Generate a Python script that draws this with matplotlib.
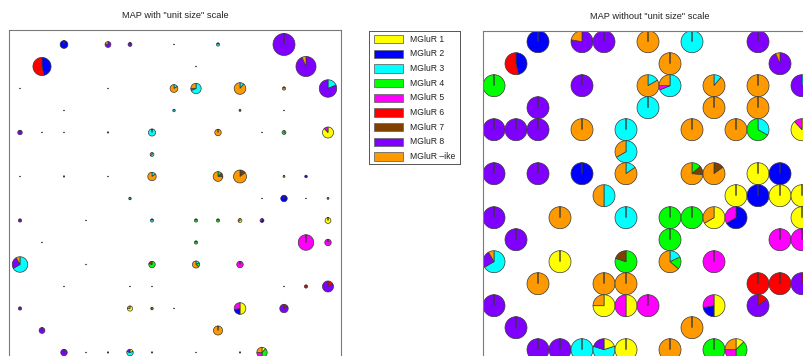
import numpy as np
import matplotlib
matplotlib.use("Agg")
import matplotlib.pyplot as plt
from matplotlib.patches import Polygon, Rectangle

plt.rcParams["font.family"] = ["Liberation Sans", "DejaVu Sans"]

# ---- classes -------------------------------------------------------------
class_names = ["MGluR 1", "MGluR 2", "MGluR 3", "MGluR 4", "MGluR 5",
               "MGluR 6", "MGluR 7", "MGluR 8", "MGluR \u2013ike"]
class_colors = ["#FFFF00", "#0000FF", "#00FFFF", "#00FF00", "#FF00FF",
                "#FF0000", "#804000", "#8000FF", "#FF9900"]

# ---- SOM map units with hits --------------------------------------------
# grid row, grid column, hits per class (same order as class_names)
unit_row = [0, 0, 0, 0, 0, 0,
            1, 1, 1,
            2, 2, 2, 2, 2, 2, 2,
            3, 3, 3, 3,
            4, 4, 4, 4, 4, 4, 4, 4, 4,
            5,
            6, 6, 6, 6, 6, 6, 6, 6,
            7, 7, 7, 7, 7,
            8, 8, 8, 8, 8, 8, 8, 8,
            9, 9, 9, 9,
            10, 10, 10, 10, 10,
            11, 11, 11, 11, 11, 11,
            12, 12, 12, 12, 12, 12,
            13, 13,
            14, 14, 14, 14, 14, 14, 14, 14]
unit_col = [2, 4, 5, 7, 9, 12,
            1, 8, 13,
            0, 4, 7, 8, 10, 12, 14,
            2, 7, 10, 12,
            0, 1, 2, 4, 6, 9, 11, 12, 14,
            6,
            0, 2, 4, 6, 9, 10, 12, 13,
            5, 11, 12, 13, 14,
            0, 3, 6, 8, 9, 10, 11, 14,
            1, 8, 13, 14,
            0, 3, 6, 8, 10,
            2, 5, 6, 12, 13, 14,
            0, 5, 6, 7, 10, 12,
            1, 9,
            2, 3, 4, 5, 6, 8, 10, 11]
unit_hits = [
    # row 0
    [0, 12, 0, 0, 0, 0, 0, 0, 0],
    [0, 0, 0, 0, 0, 0, 0, 7, 2],
    [0, 0, 0, 0, 0, 0, 0, 6, 0],
    [0, 0, 0, 0, 0, 0, 0, 0, 1],
    [0, 0, 5, 0, 0, 0, 0, 0, 0],
    [0, 0, 0, 0, 0, 0, 0, 34, 0],
    # row 1
    [0, 13, 0, 0, 0, 15, 0, 0, 0],
    [0, 0, 0, 0, 0, 0, 0, 0, 1],
    [0, 0, 0, 0, 0, 0, 0, 29, 2],
    # row 2
    [0, 0, 0, 1, 0, 0, 0, 0, 0],
    [0, 0, 0, 0, 0, 0, 0, 1, 0],
    [0, 0, 2, 0, 0, 0, 0, 0, 10],
    [0, 0, 11, 0, 1, 0, 0, 0, 4],
    [0, 0, 2, 0, 0, 0, 0, 0, 16],
    [0, 0, 0, 0, 0, 0, 0, 0, 5],
    [0, 0, 5, 0, 0, 0, 0, 22, 0],
    # row 3
    [0, 0, 0, 0, 0, 0, 0, 1, 0],
    [0, 0, 4, 0, 0, 0, 0, 0, 0],
    [0, 0, 0, 0, 0, 0, 0, 0, 3],
    [0, 0, 0, 0, 0, 0, 0, 0, 1],
    # row 4
    [0, 0, 0, 0, 0, 0, 0, 7, 0],
    [0, 0, 0, 0, 0, 0, 0, 1, 0],
    [0, 0, 0, 0, 0, 0, 0, 1, 0],
    [0, 0, 0, 0, 0, 0, 0, 0, 2],
    [0, 0, 11, 0, 0, 0, 0, 0, 0],
    [0, 0, 0, 0, 0, 0, 0, 0, 10],
    [0, 0, 0, 0, 0, 0, 0, 0, 1],
    [0, 0, 2, 4, 0, 0, 0, 0, 0],
    [15, 0, 0, 0, 2, 0, 0, 0, 0],
    # row 5
    [0, 0, 4, 0, 0, 0, 0, 0, 2],
    # row 6
    [0, 0, 0, 0, 0, 0, 0, 1, 0],
    [0, 0, 0, 0, 0, 0, 0, 2, 0],
    [0, 1, 0, 0, 0, 0, 0, 0, 0],
    [0, 0, 2, 0, 0, 0, 0, 0, 11],
    [0, 0, 0, 2, 0, 0, 2, 0, 11],
    [0, 0, 0, 0, 0, 0, 3, 0, 17],
    [3, 0, 0, 0, 0, 0, 0, 0, 0],
    [0, 4, 0, 0, 0, 0, 0, 0, 0],
    # row 7
    [0, 0, 2, 0, 0, 0, 0, 0, 2],
    [1, 0, 0, 0, 0, 0, 0, 0, 0],
    [0, 10, 0, 0, 0, 0, 0, 0, 0],
    [1, 0, 0, 0, 0, 0, 0, 0, 0],
    [3, 0, 0, 0, 0, 0, 0, 0, 0],
    # row 8
    [0, 0, 0, 0, 0, 0, 0, 5, 0],
    [0, 0, 0, 0, 0, 0, 0, 0, 1],
    [0, 0, 5, 0, 0, 0, 0, 0, 0],
    [0, 0, 0, 5, 0, 0, 0, 0, 0],
    [0, 0, 0, 5, 0, 0, 0, 0, 0],
    [4, 0, 0, 0, 0, 0, 0, 0, 2],
    [0, 4, 0, 0, 2, 0, 0, 0, 0],
    [9, 0, 0, 0, 0, 0, 0, 0, 0],
    # row 9
    [0, 0, 0, 0, 0, 0, 0, 1, 0],
    [0, 0, 0, 5, 0, 0, 0, 0, 0],
    [0, 0, 0, 0, 24, 0, 0, 0, 0],
    [0, 0, 0, 0, 10, 0, 0, 0, 0],
    # row 10
    [0, 0, 16, 0, 0, 0, 0, 6, 2],
    [1, 0, 0, 0, 0, 0, 0, 0, 0],
    [0, 0, 0, 8, 0, 0, 2, 0, 0],
    [0, 0, 2, 2, 0, 0, 0, 0, 7],
    [0, 0, 0, 0, 10, 0, 0, 0, 0],
    # row 11
    [0, 0, 0, 0, 0, 0, 0, 0, 1],
    [0, 0, 0, 0, 0, 0, 0, 0, 1],
    [0, 0, 0, 0, 0, 0, 0, 0, 1],
    [0, 0, 0, 0, 0, 1, 0, 0, 0],
    [0, 0, 0, 0, 0, 5, 0, 0, 0],
    [0, 0, 0, 0, 0, 3, 0, 14, 0],
    # row 12
    [0, 0, 0, 0, 0, 0, 0, 5, 0],
    [6, 0, 0, 0, 0, 0, 0, 0, 2],
    [2, 0, 0, 0, 2, 0, 0, 0, 0],
    [0, 0, 0, 0, 1, 0, 0, 0, 0],
    [9, 4, 0, 0, 5, 0, 0, 0, 0],
    [0, 0, 0, 0, 0, 2, 0, 11, 0],
    # row 13
    [0, 0, 0, 0, 0, 0, 0, 9, 0],
    [0, 0, 0, 0, 0, 0, 0, 0, 14],
    # row 14
    [0, 0, 0, 0, 0, 0, 0, 10, 0],
    [0, 0, 0, 0, 0, 0, 0, 1, 0],
    [0, 0, 2, 0, 0, 0, 0, 0, 0],
    [2, 0, 6, 0, 0, 0, 0, 2, 0],
    [2, 0, 0, 0, 0, 0, 0, 0, 0],
    [0, 0, 0, 0, 0, 0, 0, 0, 1],
    [0, 0, 0, 2, 0, 0, 0, 0, 0],
    [2, 0, 0, 6, 4, 0, 0, 0, 4],
]

panel_titles = ['MAP with "unit size" scale', 'MAP without "unit size" scale']

# ---- figure --------------------------------------------------------------
W, H = 804, 356
DPI = 100
fig = plt.figure(figsize=(W / DPI, H / DPI), dpi=DPI)
fig.patch.set_facecolor("white")

CELL = 22.0          # pixels per map unit
AX_SIDE = 332.0      # axes side in pixels


def px_axes(left, top, width, height):
    return fig.add_axes([left / W, (H - top - height) / H, width / W, height / H])


def draw_pie(ax, cx, cy, radius, hits):
    hits = np.asarray(hits, dtype=float)
    total = hits.sum()
    start = 0.0
    for k, h in enumerate(hits):
        if h <= 0:
            continue
        frac = h / total
        a0 = np.pi / 2 - 2 * np.pi * start
        a1 = np.pi / 2 - 2 * np.pi * (start + frac)
        n = max(int(abs(a1 - a0) / (2 * np.pi) * 90), 3)
        t = np.linspace(a0, a1, n)
        pts = np.vstack([[cx, cy],
                         np.column_stack([cx + radius * np.cos(t),
                                          cy + radius * np.sin(t)])])
        ax.add_patch(Polygon(pts, closed=True, facecolor=class_colors[k],
                             edgecolor="#383838", linewidth=0.5,
                             joinstyle="miter"))
        start += frac


def setup_map_axes(left, top, col0_px, row0_px):
    ax = px_axes(left, top, AX_SIDE, AX_SIDE)
    x0 = -(col0_px - left) / CELL
    y1 = (row0_px - top) / CELL
    ax.set_xlim(x0, x0 + AX_SIDE / CELL)
    ax.set_ylim(y1 - AX_SIDE / CELL, y1)
    ax.set_xticks([])
    ax.set_yticks([])
    for s in ax.spines.values():
        s.set_color("#7a7a7a")
        s.set_linewidth(0.8)
    return ax


totals = np.array([sum(h) for h in unit_hits], dtype=float)
max_total = totals.max()

# left: pie radius follows the number of hits in each unit
ax_l = setup_map_axes(9, 30, 20, 44.5)
for r, c, h, tot in zip(unit_row, unit_col, unit_hits, totals):
    draw_pie(ax_l, c, -r, 0.5 * tot / max_total, h)
ax_l.set_title(panel_titles[0], fontsize=6.7, color="#222222", pad=8.5)

# right: every hit unit drawn at full size
ax_r = setup_map_axes(483.3, 30.5, 494, 41.7)
for r, c, h in zip(unit_row, unit_col, unit_hits):
    draw_pie(ax_r, c, -r, 0.5, h)
ax_r.set_title(panel_titles[1], fontsize=6.7, color="#222222", pad=8)

# ---- legend --------------------------------------------------------------
leg_left, leg_top, leg_w, leg_h = 369, 31, 91, 133
ax_g = px_axes(leg_left, leg_top, leg_w, leg_h)
ax_g.set_xlim(0, leg_w)
ax_g.set_ylim(leg_h, 0)
ax_g.set_xticks([])
ax_g.set_yticks([])
for s in ax_g.spines.values():
    s.set_color("#555555")
    s.set_linewidth(0.7)
row_step = 14.7
for k, (name, col) in enumerate(zip(class_names, class_colors)):
    yc = 8.0 + k * row_step
    ax_g.add_patch(Rectangle((5, yc - 4.2), 29, 8.4, facecolor=col,
                             edgecolor="#6a6a6a", linewidth=0.6))
    ax_g.text(41, yc, name, fontsize=6.2, va="center", ha="left",
              color="#222222")

fig.savefig("out.png", dpi=DPI, facecolor="white")
